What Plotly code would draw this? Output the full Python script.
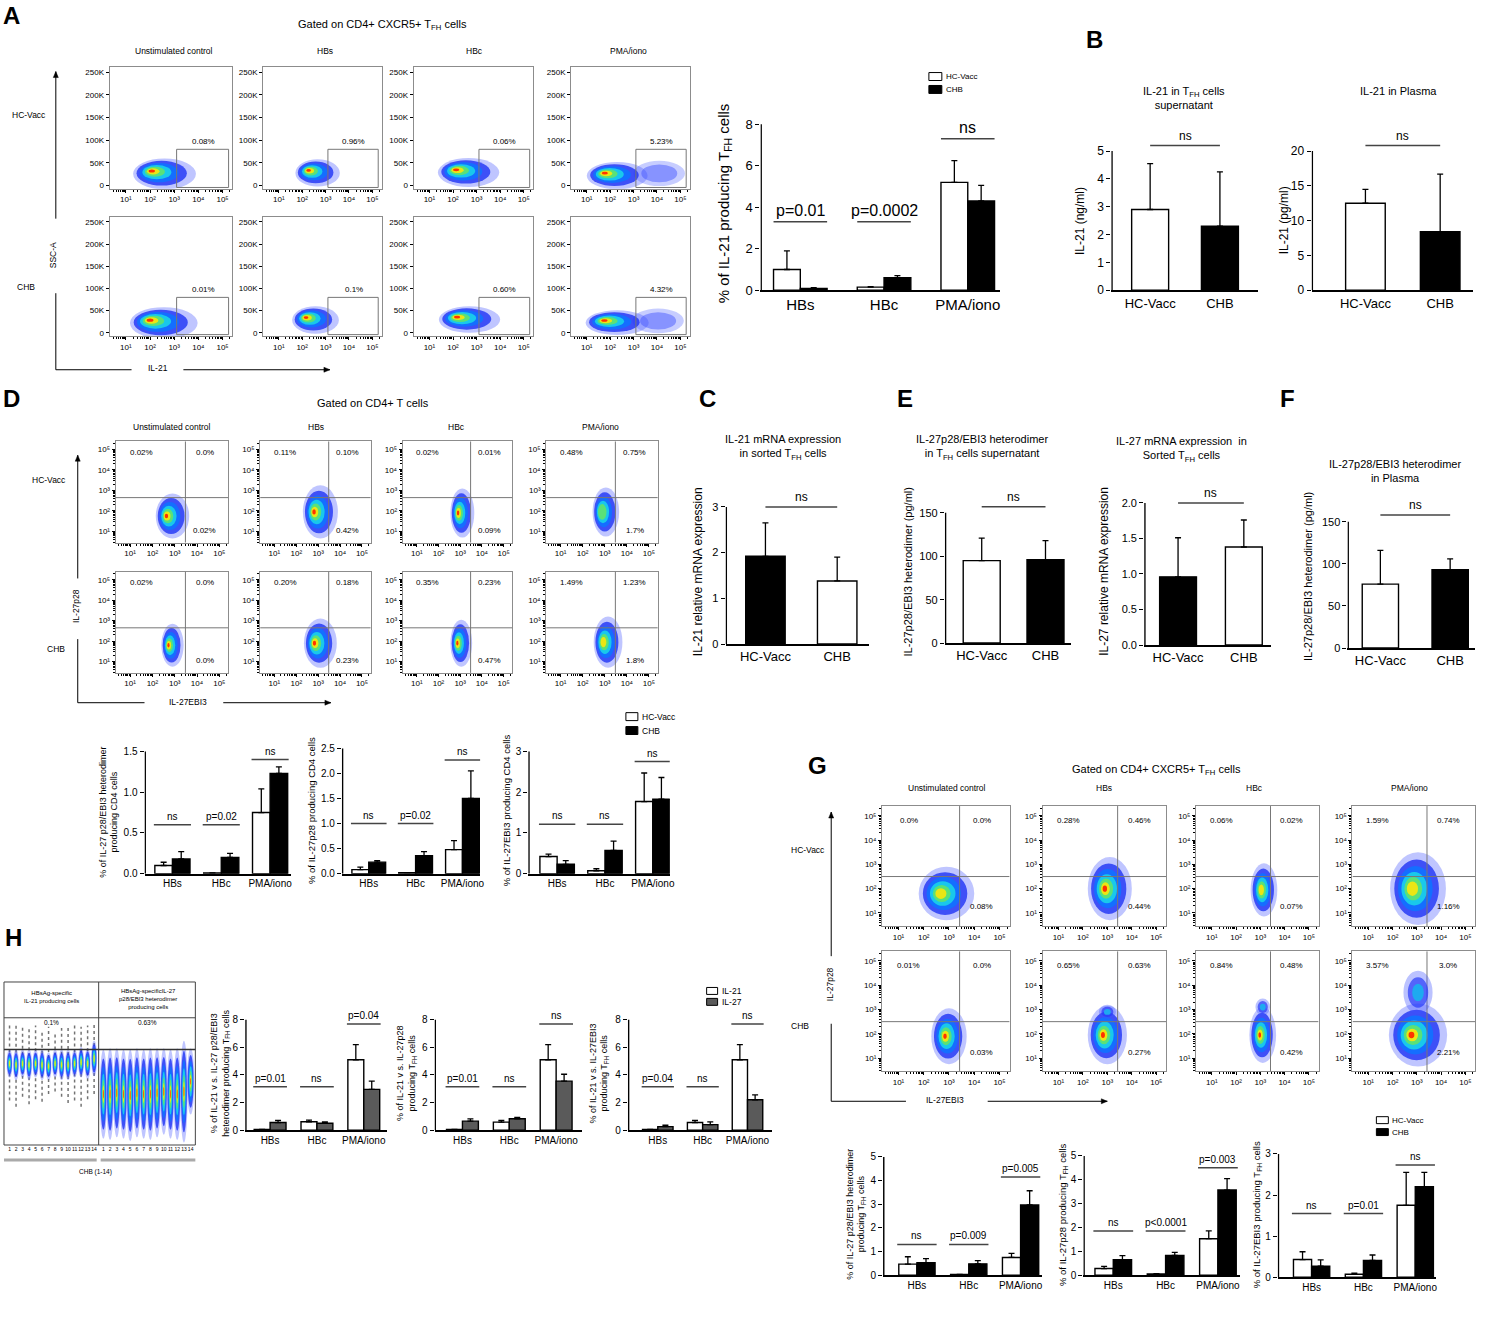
import numpy as np
import plotly.graph_objects as go

W, H = 1497, 1317
FONT = "Liberation Sans, Arial, sans-serif"

# ---------------- values ----------------
conds = ["Unstimulated control", "HBs", "HBc", "PMA/iono"]
groups = ["HC-Vacc", "CHB"]
stims = ["HBs", "HBc", "PMA/iono"]
decades = ["10¹", "10²", "10³", "10⁴", "10⁵"]

# A: IL-21 (log decades) vs SSC-A (K) flow plots, rows = HC-Vacc / CHB
a_gate_pct = [["0.08%", "0.96%", "0.06%", "5.23%"],
              ["0.01%", "0.1%", "0.60%", "4.32%"]]
a_core_x = [[2.6, 2.66, 2.66, 2.3], [2.57, 2.57, 2.7, 2.3]]
a_core_y = [[26, 28, 29, 22], [22, 29, 30, 23]]
a_spread_x = [[1.3, 0.95, 1.3, 1.3], [1.4, 1.0, 1.3, 1.35]]
a_spread_y = [[34, 30, 32, 30], [36, 31, 30, 28]]
a_tail_x = [[0, 0, 0, 4.1], [0, 0, 0, 4.05]]
a_tail_rx = [[0, 0, 0, 1.1], [0, 0, 0, 1.1]]

# A bars: % of IL-21 producing TFH cells
il21_hc = [1.0, 0.15, 5.2]
il21_hc_err = [0.9, 0.02, 1.05]
il21_chb = [0.08, 0.6, 4.3]
il21_chb_err = [0.04, 0.1, 0.75]
il21_sig = ["p=0.01", "p=0.0002", "ns"]
il21_sig_y = [3.3, 3.3, 7.3]

# B, C, E, F: HC-Vacc vs CHB
b_sup = [2.9, 2.3]
b_sup_err = [1.65, 1.95]
b_plasma = [12.5, 8.4]
b_plasma_err = [2.0, 8.3]
c_mrna = [1.92, 1.38]
c_mrna_err = [0.73, 0.52]
e_sup = [95, 96]
e_sup_err = [26, 22]
e_mrna = [0.96, 1.38]
e_mrna_err = [0.55, 0.38]
f_plasma = [76, 93]
f_plasma_err = [40, 13]

# D: IL-27EBI3 vs IL-27p28 on CD4+ T cells (log decades)
d_pct = [[["0.02%", "0.0%", "0.02%"], ["0.11%", "0.10%", "0.42%"],
          ["0.02%", "0.01%", "0.09%"], ["0.48%", "0.75%", "1.7%"]],
         [["0.02%", "0.0%", "0.0%"], ["0.20%", "0.18%", "0.23%"],
          ["0.35%", "0.23%", "0.47%"], ["1.49%", "1.23%", "1.8%"]]]
d_core_x = [[2.9, 3.1, 3.1, 3.05], [2.9, 3.1, 3.05, 3.15]]
d_core_y = [[1.75, 1.95, 1.9, 1.95], [1.8, 1.9, 1.9, 1.95]]
d_spread_x = [[0.75, 0.8, 0.55, 0.6], [0.5, 0.75, 0.5, 0.65]]
d_spread_y = [[1.1, 1.3, 1.2, 1.2], [1.05, 1.2, 1.15, 1.25]]
d_peak = [[7, 7, 7, 5], [7, 7, 7, 6]]

# D bars (% of CD4 cells)
d_het_hc = [0.10, 0.01, 0.75]
d_het_hc_err = [0.04, 0.0, 0.29]
d_het_chb = [0.18, 0.20, 1.23]
d_het_chb_err = [0.09, 0.05, 0.08]
d_het_sig = ["ns", "p=0.02", "ns"]
d_het_sig_y = [0.6, 0.6, 1.4]
d_p28_hc = [0.08, 0.02, 0.48]
d_p28_hc_err = [0.05, 0.0, 0.18]
d_p28_chb = [0.23, 0.36, 1.5]
d_p28_chb_err = [0.03, 0.08, 0.55]
d_p28_sig = ["ns", "p=0.02", "ns"]
d_p28_sig_y = [1.0, 1.0, 2.27]
d_ebi_hc = [0.42, 0.07, 1.77]
d_ebi_hc_err = [0.06, 0.05, 0.7]
d_ebi_chb = [0.23, 0.57, 1.83]
d_ebi_chb_err = [0.09, 0.23, 0.53]
d_ebi_sig = ["ns", "ns", "ns"]
d_ebi_sig_y = [1.21, 1.21, 2.75]

# G: IL-27EBI3 vs IL-27p28 on TFH cells
g_pct = [[["0.0%", "0.0%", "0.08%"], ["0.28%", "0.46%", "0.44%"],
          ["0.06%", "0.02%", "0.07%"], ["1.59%", "0.74%", "1.16%"]],
         [["0.01%", "0.0%", "0.03%"], ["0.65%", "0.63%", "0.27%"],
          ["0.84%", "0.48%", "0.42%"], ["3.57%", "3.0%", "2.21%"]]]
g_core_x = [[2.9, 3.1, 3.15, 3.05], [3.0, 3.0, 3.1, 3.05]]
g_core_y = [[1.8, 2.0, 1.95, 2.0], [1.9, 1.95, 1.95, 1.95]]
g_spread_x = [[1.1, 0.9, 0.55, 1.15], [0.7, 0.8, 0.55, 1.2]]
g_spread_y = [[1.1, 1.3, 1.1, 1.5], [1.15, 1.2, 1.15, 1.3]]
g_peak = [[6, 7, 6, 6], [7, 7, 7, 7]]
g_up_y = [[0, 0, 0, 0], [0, 2.9, 3.1, 3.7]]
g_up_rx = [[0, 0, 0, 0], [0, 0.35, 0.3, 0.6]]
g_up_ry = [[0, 0, 0, 0], [0, 0.3, 0.35, 0.9]]

# G bars (% of TFH cells)
g_het_hc = [0.47, 0.03, 0.75]
g_het_hc_err = [0.31, 0.0, 0.17]
g_het_chb = [0.53, 0.48, 2.97]
g_het_chb_err = [0.17, 0.14, 0.6]
g_het_sig = ["ns", "p=0.009", "p=0.005"]
g_het_sig_y = [1.3, 1.3, 4.15]
g_p28_hc = [0.28, 0.05, 1.53]
g_p28_hc_err = [0.09, 0.02, 0.33]
g_p28_chb = [0.65, 0.83, 3.57]
g_p28_chb_err = [0.17, 0.13, 0.48]
g_p28_sig = ["ns", "p<0.0001", "p=0.003"]
g_p28_sig_y = [1.85, 1.85, 4.5]
g_ebi_hc = [0.43, 0.07, 1.75]
g_ebi_hc_err = [0.19, 0.03, 0.8]
g_ebi_chb = [0.27, 0.41, 2.2]
g_ebi_chb_err = [0.15, 0.13, 0.35]
g_ebi_sig = ["ns", "p=0.01", "ns"]
g_ebi_sig_y = [1.55, 1.55, 2.73]

# H: per-patient lanes (CHB 1-14), density stripes on a 0-100 scale
h_lanes = list(range(1, 15))
h21_mid = [64, 63, 64, 63, 64, 63, 62, 64, 63, 63, 64, 65, 64, 68]
h21_half = [11, 12, 11, 12, 11, 12, 11, 11, 12, 12, 11, 12, 12, 14]
h21_dots_top = [94, 95, 93, 92, 94, 90, 93, 88, 92, 94, 95, 93, 94, 96]
h21_dots_low = [35, 30, 38, 32, 36, 34, 40, 42, 38, 33, 35, 30, 36, 40]
h27_mid = [40, 40, 41, 40, 39, 41, 40, 40, 41, 42, 40, 40, 42, 50]
h27_half = [35, 36, 35, 35, 36, 35, 35, 36, 35, 34, 35, 36, 40, 26]

# H bars: IL-21 vs IL-27
h_het_il21 = [0.05, 0.6, 5.1]
h_het_il21_err = [0.0, 0.12, 1.1]
h_het_il27 = [0.55, 0.5, 2.95]
h_het_il27_err = [0.15, 0.1, 0.6]
h_het_sig = ["p=0.01", "ns", "p=0.04"]
h_p28_il21 = [0.05, 0.58, 5.1]
h_p28_il21_err = [0.0, 0.12, 1.1]
h_p28_il27 = [0.65, 0.82, 3.55]
h_p28_il27_err = [0.17, 0.1, 0.5]
h_p28_sig = ["p=0.01", "ns", "ns"]
h_ebi_il21 = [0.05, 0.55, 5.1]
h_ebi_il21_err = [0.0, 0.15, 1.1]
h_ebi_il27 = [0.25, 0.4, 2.2]
h_ebi_il27_err = [0.1, 0.2, 0.35]
h_ebi_sig = ["p=0.04", "ns", "ns"]
h_sig_y = [3.15, 3.15, 7.7]

# ---------------- helpers ----------------
fig = go.Figure()
shapes, notes, lay = [], [], {}
n_ax = [0]

WHITE, BLACK, GREY = "white", "black", "#5a5a5a"
LAYERS = [(1.00, "rgba(60,80,255,0.33)"), (0.80, "rgba(30,50,245,0.8)"),
          (0.62, "rgb(20,110,255)"), (0.46, "rgb(25,200,235)"),
          (0.32, "rgb(90,225,120)"), (0.20, "rgb(235,230,20)"),
          (0.10, "rgb(255,50,0)")]


def new_axes(x0, x1, y0, y1):
    n_ax[0] += 1
    s = "" if n_ax[0] == 1 else str(n_ax[0])
    lay["xaxis" + s] = dict(domain=[x0 / W, x1 / W], anchor="y" + s, fixedrange=True)
    lay["yaxis" + s] = dict(domain=[1 - y1 / H, 1 - y0 / H], anchor="x" + s, fixedrange=True)
    return "x" + s, "y" + s


def ax_key(name):
    return name[0] + "axis" + name[1:]


def txt(x, y, s, size=10, angle=0, xa="center", ya="middle", bold=False):
    font = dict(family=FONT, size=size, color="black")
    if bold:
        font["weight"] = "bold"
    notes.append(dict(x=x / W, y=1 - y / H, xref="paper", yref="paper", text=s,
                      showarrow=False, textangle=angle, xanchor=xa, yanchor=ya,
                      font=font))


def pline(x0, y0, x1, y1, color="black", width=1):
    shapes.append(dict(type="line", xref="paper", yref="paper", x0=x0 / W, x1=x1 / W,
                       y0=1 - y0 / H, y1=1 - y1 / H, line=dict(color=color, width=width)))


def arrow(x, y, x_from, y_from, head=6, half=2.5):
    # shaft plus a small filled head, tip at (x, y)
    pline(x_from, y_from, x, y)
    dx, dy = x - x_from, y - y_from
    n = (dx ** 2 + dy ** 2) ** 0.5
    ux, uy = dx / n, dy / n
    bx, by = x - ux * head, y - uy * head
    pts = [(x, y), (bx - uy * half, by + ux * half), (bx + uy * half, by - ux * half)]
    path = "M " + " L ".join("%.5f,%.5f" % (px / W, 1 - py / H) for px, py in pts) + " Z"
    shapes.append(dict(type="path", xref="paper", yref="paper", path=path,
                       fillcolor="black", line=dict(color="black", width=0.5)))


def legend(x, y, items, size, bw=13, bh=8, gap=13):
    for k, (label, col) in enumerate(items):
        yy = y + k * gap
        shapes.append(dict(type="rect", xref="paper", yref="paper",
                           x0=x / W, x1=(x + bw) / W, y0=1 - (yy + bh / 2) / H,
                           y1=1 - (yy - bh / 2) / H, fillcolor=col,
                           line=dict(color="black", width=1)))
        txt(x + bw + 2, yy, label, size, xa="left")


def bar_panel(ax0, ax1, y_zero, y_top, top, yticks, cats, cat0, sp, series, bw,
              sig, fs_tick, fs_cat, fs_sig, dom_top, ytext=None):
    xn, yn = new_axes(ax0, ax1, dom_top, y_zero)
    rng = top * (y_zero - dom_top) / (y_zero - y_top)
    rl = -(cat0 - ax0) / sp
    n = len(series)
    for j, (vals, errs, col) in enumerate(series):
        fig.add_trace(go.Bar(
            x=cats, y=vals, width=bw, offset=-bw * n / 2 + j * bw,
            marker=dict(color=col, line=dict(color="black", width=1.4)),
            error_y=dict(type="data", array=errs, arrayminus=[0] * len(errs),
                         symmetric=False, color="black", thickness=1.3, width=3),
            xaxis=xn, yaxis=yn, showlegend=False, hoverinfo="skip"))
    lay[ax_key(xn)].update(type="category", categoryorder="array", categoryarray=cats,
                           range=[rl, (ax1 - cat0) / sp], showline=True, linecolor="black",
                           linewidth=1.5, ticks="", showgrid=False, zeroline=False,
                           tickfont=dict(family=FONT, size=fs_cat, color="black"))
    lay[ax_key(yn)].update(range=[0, rng], tickvals=yticks, ticktext=ytext, ticks="outside",
                           ticklen=4, tickwidth=1.3, tickcolor="black", showline=False,
                           showgrid=False, zeroline=False,
                           tickfont=dict(family=FONT, size=fs_tick, color="black"))
    shapes.append(dict(type="line", xref=xn, yref=yn, x0=rl + 0.7 / sp, x1=rl + 0.7 / sp,
                       y0=0, y1=top, line=dict(color="black", width=1.5)))
    for xa, xb, lvl, label in sig:
        shapes.append(dict(type="line", xref=xn, yref=yn, x0=xa, x1=xb, y0=lvl, y1=lvl,
                           line=dict(color="#444", width=1.5)))
        notes.append(dict(x=(xa + xb) / 2, y=lvl, xref=xn, yref=yn, text=label,
                          showarrow=False, yanchor="bottom", yshift=1,
                          font=dict(family=FONT, size=fs_sig, color="black")))


def three_sig(labels, levels, h=0.36):
    return [(i - h, i + h, levels[i], labels[i]) for i in range(3)]


def minor_vals(lo, hi):
    return [d + np.log10(k) for d in range(0, 6) for k in range(2, 10)
            if lo < d + np.log10(k) < hi]


def flow_axes(x0, x1, y0, y1, xr, yr, yvals, ytext, fs, ylog):
    xn, yn = new_axes(x0, x1, y0, y1)
    base = dict(showgrid=False, zeroline=False, showline=True, mirror=True,
                linecolor="#8c8c8c", linewidth=1, ticks="outside", ticklen=3,
                tickcolor="black", tickwidth=1,
                tickfont=dict(family=FONT, size=fs, color="black"))
    lay[ax_key(xn)].update(base, range=xr, tickvals=[1, 2, 3, 4, 5], ticktext=decades,
                           minor=dict(tickvals=minor_vals(*xr), ticks="outside",
                                      ticklen=2, tickcolor="black"))
    lay[ax_key(yn)].update(base, range=yr, tickvals=yvals, ticktext=ytext)
    if ylog:
        lay[ax_key(yn)]["minor"] = dict(tickvals=minor_vals(*yr), ticks="outside",
                                        ticklen=2, tickcolor="black")
    fig.add_trace(go.Scatter(x=[xr[0]], y=[yr[0]], mode="markers",
                             marker=dict(size=1, opacity=0), xaxis=xn, yaxis=yn,
                             showlegend=False, hoverinfo="skip"))
    return xn, yn


def blob(xn, yn, cx, cy, rx, ry, peak=7, ox=0.0, oy=0.0, layers=LAYERS):
    for s, col in layers[:peak]:
        mx = cx + ox * rx * (1 - s)
        my = cy + oy * ry * (1 - s)
        shapes.append(dict(type="circle", xref=xn, yref=yn, x0=mx - rx * s, x1=mx + rx * s,
                           y0=my - ry * s, y1=my + ry * s, fillcolor=col,
                           line=dict(width=0)))


def note_on(xn, yn, x, y, s, size):
    notes.append(dict(x=x, y=y, xref=xn, yref=yn, text=s, showarrow=False,
                      font=dict(family=FONT, size=size, color="black")))


# ---------------- panel A ----------------
txt(12, 16, "A", 24, bold=True)
txt(384, 25, "Gated on CD4+ CXCR5+ T<sub>FH</sub> cells", 11)
for c, xc in enumerate([175, 326, 476, 631]):
    txt(xc, 51, conds[c], 8.5)
txt(29, 116, groups[0], 8.5)
txt(26, 289, groups[1], 8.5)
txt(54, 257, "SSC-A", 8.5, angle=-90)
arrow(56, 72, 56, 220)
pline(56, 295, 56, 372)
pline(56, 372, 132, 372)
txt(159, 370, "IL-21", 8.5)
arrow(331, 372, 184, 372)

a_bx = [(110, 233), (264, 383), (415, 535), (573, 692)]
a_by = [(67, 190), (218, 338)]
for r in range(2):
    for c in range(4):
        xn, yn = flow_axes(a_bx[c][0], a_bx[c][1], a_by[r][0], a_by[r][1],
                           [0.33, 5.4], [-7000, 262000],
                           [0, 50000, 100000, 150000, 200000, 250000],
                           ["0", "50K", "100K", "150K", "200K", "250K"], 8, False)
        if a_tail_rx[r][c]:
            blob(xn, yn, a_tail_x[r][c], 27000, a_tail_rx[r][c], 28000, 2,
                 layers=[(1.0, "rgba(70,90,255,0.3)"), (0.7, "rgba(40,60,255,0.4)")])
        blob(xn, yn, a_core_x[r][c], a_core_y[r][c] * 1000, a_spread_x[r][c],
             a_spread_y[r][c] * 1000, 7, ox=-0.45, oy=0.2)
        shapes.append(dict(type="rect", xref=xn, yref=yn, x0=3.1, x1=5.25, y0=-4000,
                           y1=80000, line=dict(color="#777", width=1)))
        note_on(xn, yn, 4.2, 97000, a_gate_pct[r][c], 8)

# A bars
bar_panel(763, 1003, 292, 125, 8, [0, 2, 4, 6, 8], stims, 803, 84,
          [(il21_hc, il21_hc_err, WHITE), (il21_chb, il21_chb_err, BLACK)], 0.32,
          three_sig(il21_sig, il21_sig_y, 0.32), 13, 15, 16, 100)
txt(727, 205, "% of IL-21 producing T<sub>FH</sub> cells", 15, angle=-90)
legend(932, 77, [("HC-Vacc", WHITE), ("CHB", BLACK)], 8)

# ---------------- panel B ----------------
txt(1098, 40, "B", 24, bold=True)
bar_panel(1115, 1262, 292, 152, 5, [0, 1, 2, 3, 4, 5], groups, 1154, 70,
          [(b_sup, b_sup_err, [WHITE, BLACK])], 0.53, [(0, 1, 5.2, "ns")], 12, 13, 12, 125)
txt(1188, 99, "IL-21 in T<sub>FH</sub> cells<br>supernatant", 11)
txt(1083, 222, "IL-21 (ng/ml)", 12, angle=-90)
bar_panel(1316, 1478, 292, 152, 20, [0, 5, 10, 15, 20], groups, 1370, 75,
          [(b_plasma, b_plasma_err, [WHITE, BLACK])], 0.53, [(0, 1, 20.8, "ns")],
          12, 13, 12, 125)
txt(1403, 92, "IL-21 in Plasma", 11)
txt(1288, 222, "IL-21 (pg/ml)", 12, angle=-90)

# ---------------- panel C ----------------
txt(710, 401, "C", 24, bold=True)
bar_panel(728, 872, 648, 510, 3, [0, 1, 2, 3], groups, 768, 72,
          [(c_mrna, c_mrna_err, [BLACK, WHITE])], 0.55, [(0, 1, 3.0, "ns")], 11, 13, 12, 485)
txt(786, 450, "IL-21 mRNA expression<br>in sorted T<sub>FH</sub> cells", 11)
txt(700, 575, "IL-21 relative mRNA expression", 12, angle=-90)

# ---------------- panel E ----------------
txt(908, 401, "E", 24, bold=True)
bar_panel(948, 1075, 647, 516, 150, [0, 50, 100, 150], groups, 985, 64,
          [(e_sup, e_sup_err, [WHITE, BLACK])], 0.58, [(0, 1, 157, "ns")], 11, 13, 12, 485)
txt(985, 450, "IL-27p28/EBI3 heterodimer<br>in T<sub>FH</sub> cells supernatant", 11)
txt(911, 575, "IL-27p28/EBI3 heterodimer (pg/ml)", 11, angle=-90)
bar_panel(1148, 1275, 649, 506, 2, [0, 0.5, 1, 1.5, 2], groups, 1182, 66,
          [(e_mrna, e_mrna_err, [BLACK, WHITE])], 0.56, [(0, 1, 2.0, "ns")], 11, 13, 12, 482,
          ytext=["0.0", "0.5", "1.0", "1.5", "2.0"])
txt(1185, 452, "IL-27 mRNA expression  in<br>Sorted T<sub>FH</sub> cells", 11)
txt(1107, 575, "IL-27 relative mRNA expression", 12, angle=-90)

# ---------------- panel F ----------------
txt(1292, 401, "F", 24, bold=True)
bar_panel(1352, 1480, 652, 525, 150, [0, 50, 100, 150], groups, 1385, 70,
          [(f_plasma, f_plasma_err, [WHITE, BLACK])], 0.52, [(0, 1, 158, "ns")],
          11, 13, 12, 500)
txt(1400, 474, "IL-27p28/EBI3 heterodimer<br>in Plasma", 11)
txt(1313, 580, "IL-27p28/EBI3 heterodimer (pg/ml)", 11, angle=-90)


# ---------------- quadrant flow grids (D and G) ----------------
def quad_grid(bx, by, pct, core_x, core_y, spx, spy, peak, qx, qy, lab_pos, ox):
    out = []
    for r in range(2):
        for c in range(4):
            xn, yn = flow_axes(bx[c][0], bx[c][1], by[r][0], by[r][1], [0.35, 5.4],
                               [0.45, 5.4], [1, 2, 3, 4, 5], decades, 8, True)
            blob(xn, yn, core_x[r][c], core_y[r][c], spx[r][c], spy[r][c], peak[r][c],
                 ox=ox)
            out.append((r, c, xn, yn))
            shapes.append(dict(type="line", xref=xn, yref=yn, x0=qx, x1=qx, y0=0.45,
                               y1=5.4, line=dict(color="#777", width=1)))
            shapes.append(dict(type="line", xref=xn, yref=yn, x0=0.35, x1=5.4, y0=qy,
                               y1=qy, line=dict(color="#777", width=1)))
            for k in range(3):
                note_on(xn, yn, lab_pos[k][0], lab_pos[k][1], pct[r][c][k], 8)
    return out


txt(12, 401, "D", 24, bold=True)
txt(374, 405, "Gated on CD4+ T cells", 11)
for c, xc in enumerate([173, 317, 458, 603]):
    txt(xc, 430, conds[c], 8.5)
txt(49, 483, groups[0], 8.5)
txt(56, 653, groups[1], 8.5)
txt(77, 610, "IL-27p28", 8.5, angle=-90)
arrow(78, 458, 78, 582)
pline(78, 643, 78, 707)
pline(78, 707, 145, 707)
txt(189, 706, "IL-27EBI3", 8.5)
arrow(332, 707, 224, 707)
quad_grid([(116, 229), (261, 372), (404, 514), (548, 660)], [(444, 546), (575, 677)],
          d_pct, d_core_x, d_core_y, d_spread_x, d_spread_y, d_peak, 3.48, 2.65,
          [(1.5, 4.85), (4.35, 4.85), (4.35, 1.05)], -0.4)

bar_panel(145, 292, 879, 756, 1.5, [0, 0.5, 1, 1.5], stims, 173, 49,
          [(d_het_hc, d_het_hc_err, WHITE), (d_het_chb, d_het_chb_err, BLACK)], 0.36,
          three_sig(d_het_sig, d_het_sig_y, 0.38), 10, 10, 10, 745,
          ytext=["0.0", "0.5", "1.0", "1.5"])
txt(109, 817, "% of IL-27 p28/EBI3 heterodimer<br>producing CD4 cells", 9, angle=-90)
bar_panel(343, 482, 879, 753, 2.5, [0, 0.5, 1, 1.5, 2, 2.5], stims, 370, 47,
          [(d_p28_hc, d_p28_hc_err, WHITE), (d_p28_chb, d_p28_chb_err, BLACK)], 0.36,
          three_sig(d_p28_sig, d_p28_sig_y, 0.38), 10, 10, 10, 740,
          ytext=["0.0", "0.5", "1.0", "1.5", "2.0", "2.5"])
txt(312, 815, "% of IL-27p28 producing CD4 cells", 9.5, angle=-90)
bar_panel(530, 672, 879, 756, 3, [0, 1, 2, 3], stims, 559, 48,
          [(d_ebi_hc, d_ebi_hc_err, WHITE), (d_ebi_chb, d_ebi_chb_err, BLACK)], 0.36,
          three_sig(d_ebi_sig, d_ebi_sig_y, 0.38), 10, 10, 10, 745)
txt(508, 815, "% of IL-27EBI3 producing CD4 cells", 9.5, angle=-90)
legend(628, 721, [("HC-Vacc", WHITE), ("CHB", BLACK)], 8.5, bw=12, bh=8, gap=14)

# ---------------- panel G ----------------
txt(820, 770, "G", 24, bold=True)
txt(1160, 775, "Gated on CD4+ CXCR5+ T<sub>FH</sub> cells", 11)
for c, xc in enumerate([950, 1108, 1259, 1414]):
    txt(xc, 793, conds[c], 8.5)
txt(811, 855, groups[0], 8.5)
txt(803, 1032, groups[1], 8.5)
txt(833, 990, "IL-27p28", 8.5, angle=-90)
arrow(834, 817, 834, 962)
pline(834, 1030, 834, 1108)
pline(834, 1108, 909, 1108)
txt(948, 1107, "IL-27EBI3", 8.5)
arrow(1111, 1108, 991, 1108)
g_plots = quad_grid([(885, 1013), (1046, 1170), (1200, 1323), (1357, 1480)],
                    [(811, 932), (957, 1078)], g_pct, g_core_x, g_core_y, g_spread_x,
                    g_spread_y, g_peak, 3.42, 2.5,
                    [(1.4, 4.8), (4.3, 4.8), (4.3, 1.25)], -0.25)
up_layers = [(1.0, "rgba(60,80,255,0.35)"), (0.7, "rgba(40,60,250,0.7)"),
             (0.4, "rgb(30,170,240)")]
for r, c, xn, yn in g_plots:
    if g_up_rx[r][c]:
        blob(xn, yn, g_core_x[r][c], g_up_y[r][c], g_up_rx[r][c], g_up_ry[r][c], 3,
             layers=up_layers)

bar_panel(886, 1045, 1283, 1164, 5, [0, 1, 2, 3, 4, 5], stims, 920, 52,
          [(g_het_hc, g_het_hc_err, WHITE), (g_het_chb, g_het_chb_err, BLACK)], 0.35,
          three_sig(g_het_sig, g_het_sig_y, 0.38), 10, 10, 10, 1140)
txt(859, 1222, "% of IL-27 p28/EBI3 heterodimer<br>producing T<sub>FH</sub> cells", 9,
    angle=-90)
bar_panel(1087, 1244, 1283, 1163, 5, [0, 1, 2, 3, 4, 5], stims, 1117, 52.5,
          [(g_p28_hc, g_p28_hc_err, WHITE), (g_p28_chb, g_p28_chb_err, BLACK)], 0.35,
          three_sig(g_p28_sig, g_p28_sig_y, 0.38), 10, 10, 10, 1140)
txt(1066, 1222, "% of IL-27p28 producing T<sub>FH</sub> cells", 9.5, angle=-90)
bar_panel(1282, 1441, 1285, 1161, 3, [0, 1, 2, 3], stims, 1316, 52,
          [(g_ebi_hc, g_ebi_hc_err, WHITE), (g_ebi_chb, g_ebi_chb_err, BLACK)], 0.35,
          three_sig(g_ebi_sig, g_ebi_sig_y, 0.38), 10, 10, 10, 1140)
txt(1261, 1222, "% of IL-27EBI3 producing T<sub>FH</sub> cells", 9.5, angle=-90)
legend(1381, 1127, [("HC-Vacc", WHITE), ("CHB", BLACK)], 8, bw=12, bh=7, gap=12)

# ---------------- panel H ----------------
txt(14, 943, "H", 24, bold=True)
lane_sets = [(5, 99, h21_mid, h21_half, 6, 0.46, h21_dots_top, h21_dots_low),
             (99, 196, h27_mid, h27_half, 7, 0.55, None, None)]
for x0, x1, mids, halves, peak, lw, dtop, dlow in lane_sets:
    xn, yn = new_axes(x0, x1, 1024, 1152)
    lay[ax_key(xn)].update(range=[0.3, 14.7], showgrid=False, zeroline=False,
                           showline=False, ticks="", tickvals=h_lanes, tickangle=0,
                           tickfont=dict(family=FONT, size=5, color="black"))
    lay[ax_key(yn)].update(range=[0, 100], visible=False)
    fig.add_trace(go.Scatter(x=h_lanes, y=mids, mode="markers",
                             marker=dict(size=1, opacity=0), xaxis=xn, yaxis=yn,
                             showlegend=False, hoverinfo="skip"))
    if dtop:
        for i, lane in enumerate(h_lanes):
            shapes.append(dict(type="line", xref=xn, yref=yn, x0=lane, x1=lane,
                               y0=dlow[i], y1=dtop[i],
                               line=dict(color="rgba(0,0,0,0.55)", width=1.5, dash="dot")))
    for i, lane in enumerate(h_lanes):
        blob(xn, yn, lane, mids[i], lw, halves[i], peak)
shapes.append(dict(type="rect", xref="paper", yref="paper", x0=4 / W, x1=196 / W,
                   y0=1 - 1152 / H, y1=1 - 988 / H, line=dict(color="#444", width=1)))
pline(99, 988, 99, 1152, "#444")
pline(4, 1024, 196, 1024, "#444")
pline(4, 1056, 196, 1056, "#333", 1.5)
pline(4, 1167, 97, 1167, "#aaa", 3)
pline(101, 1167, 196, 1167, "#aaa", 3)
txt(52, 1003, "HBsAg-specific<br>IL-21 producing cells", 6)
txt(148, 1005, "HBsAg-specificIL-27<br>p28/EBI3 heterodimer<br>producing cells", 6)
txt(52, 1029, "0.1%", 6.5)
txt(148, 1029, "0.63%", 6.5)
txt(96, 1179, "CHB (1-14)", 6.5)

bar_panel(246, 388, 1137, 1026, 8, [0, 2, 4, 6, 8], stims, 271, 47,
          [(h_het_il21, h_het_il21_err, WHITE), (h_het_il27, h_het_il27_err, GREY)], 0.34,
          three_sig(h_het_sig, h_sig_y, 0.36), 10, 10, 10, 1005)
txt(221, 1080, "% of IL-21 v s. IL-27 p28/EBI3<br>heterodimer producing T<sub>FH</sub> cells",
    9, angle=-90)
bar_panel(436, 584, 1137, 1026, 8, [0, 2, 4, 6, 8], stims, 464, 47,
          [(h_p28_il21, h_p28_il21_err, WHITE), (h_p28_il27, h_p28_il27_err, GREY)], 0.34,
          three_sig(h_p28_sig, h_sig_y, 0.36), 10, 10, 10, 1005)
txt(408, 1080, "% of IL-21 v s. IL-27p28<br>producing T<sub>FH</sub> cells", 9, angle=-90)
bar_panel(630, 775, 1137, 1026, 8, [0, 2, 4, 6, 8], stims, 660, 45,
          [(h_ebi_il21, h_ebi_il21_err, WHITE), (h_ebi_il27, h_ebi_il27_err, GREY)], 0.34,
          three_sig(h_ebi_sig, h_sig_y, 0.36), 10, 10, 10, 1005)
txt(601, 1080, "% of IL-21 v s. IL-27EBI3<br>producing T<sub>FH</sub> cells", 9, angle=-90)
legend(709, 997, [("IL-21", WHITE), ("IL-27", GREY)], 8.5, bw=11, bh=7, gap=11)

fig.update_layout(width=W, height=H, margin=dict(l=0, r=0, t=0, b=0),
                  plot_bgcolor="white", paper_bgcolor="white", showlegend=False,
                  font=dict(family=FONT), shapes=shapes, annotations=notes, **lay)
fig.write_html("out.html", config={"displayModeBar": False},
               post_script="document.body.style.margin = '0px';")
